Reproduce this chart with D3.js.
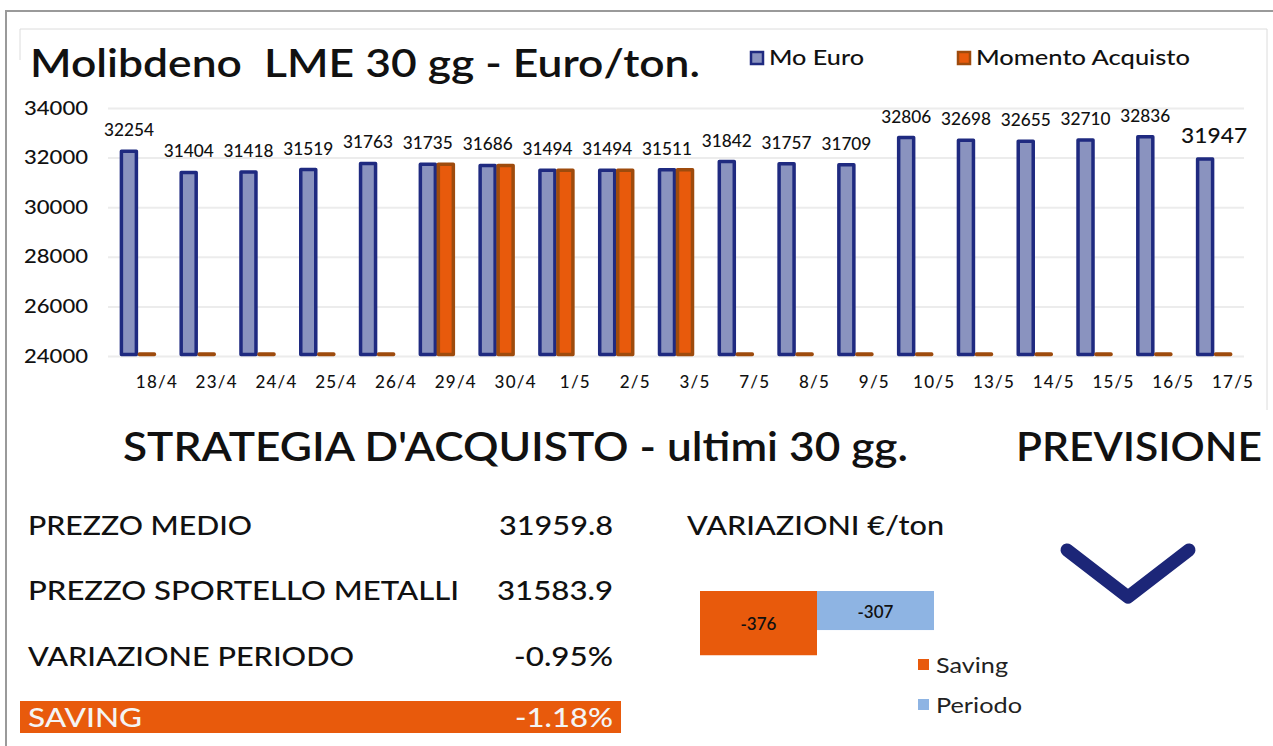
<!DOCTYPE html>
<html lang="it">
<head>
<meta charset="utf-8" />
<title>Molibdeno LME 30 gg</title>
<script src="https://d3js.org/d3.v7.min.js"></script>
<style>
  body{margin:0;background:#fff;font-family:Lato,"Noto Sans",sans-serif;}
  svg{display:block;}
  text{fill:#111;}
</style>
</head>
<body>
<svg id="chart" width="1273" height="746"></svg>
<script>
// ---------- DATA ----------
const dates=['18/4','23/4','24/4','25/4','26/4','29/4','30/4','1/5','2/5','3/5','7/5','8/5','9/5','10/5','13/5','14/5','15/5','16/5','17/5'];
const moEuro=[32254,31404,31418,31519,31763,31735,31686,31494,31494,31511,31842,31757,31709,32806,32698,32655,32710,32836,31947];
const momentoAcquisto=[0,0,0,0,0,31735,31686,31494,31494,31511,0,0,0,0,0,0,0,0,0];
const yTicks=[24000,26000,28000,30000,32000,34000];
const seriesNames=['Mo Euro','Momento Acquisto'];

const tableLabels=['PREZZO MEDIO','PREZZO SPORTELLO METALLI','VARIAZIONE PERIODO','SAVING'];
const tableValues=['31959.8','31583.9','-0.95%','-1.18%'];

const varNames=['Saving','Periodo'];
const varValues=[-376,-307];

// ---------- STYLE ----------
const BLUE_FILL='#8a93bf', BLUE_LINE='#1f2a80';
const ORANGE_FILL='#e85a0c', ORANGE_LINE='#9e4b0d';
const PERIOD_BLUE='#8eb4e3';
const NAVY='#1c2678';

// the source font is wider than Lato: stretch text to the measured widths
function fit(sel,w){ sel.attr('textLength',w).attr('lengthAdjust','spacingAndGlyphs'); return sel; }

const svg=d3.select('#chart');

// page frame
svg.append('line').attr('x1',5).attr('x2',1273).attr('y1',11).attr('y2',11).attr('stroke','#9a9a9a').attr('stroke-width',2);
svg.append('line').attr('x1',6).attr('x2',6).attr('y1',10).attr('y2',746).attr('stroke','#9a9a9a').attr('stroke-width',2);
// chart area frame (light)
svg.append('path').attr('d','M20,60V29H1267V410').attr('fill','none').attr('stroke','#dcdcdc').attr('stroke-width',1);

// title
fit(svg.append('text').attr('x',30).attr('y',77).style('font-size','39px').style('font-weight',600)
  .text('Molibdeno\u00a0\u00a0LME 30 gg - Euro/ton.'),670);

// ---------- BAR CHART ----------
const plot={left:108,right:1244,top:108,bottom:356};
const x0=d3.scaleBand().domain(dates).range([plot.left,plot.right]).padding(0);
const step=x0.bandwidth();
const barW=18;
const x1=d3.scaleBand().domain(seriesNames).range([step/2-barW,step/2+barW]).padding(0);
const y=d3.scaleLinear().domain([24000,34000]).range([plot.bottom,plot.top]);

// gridlines + y labels
const yAxis=svg.append('g').attr('transform',`translate(${plot.left},0)`)
  .call(d3.axisLeft(y).tickValues(yTicks).tickSize(-(plot.right-plot.left)).tickPadding(20).tickFormat(d3.format('d')));
yAxis.select('.domain').remove();
yAxis.selectAll('.tick line').attr('stroke','#ececec').attr('stroke-width',2);
yAxis.selectAll('.tick text').style('font-size','19px').style('font-family','Lato,"Noto Sans",sans-serif')
  .style('font-weight',500).attr('textLength',64).attr('lengthAdjust','spacingAndGlyphs').attr('fill','#111');

const rows=dates.map((d,i)=>({date:d,mo:moEuro[i],acq:momentoAcquisto[i],i}));
const groups=svg.append('g').selectAll('g').data(rows).enter().append('g')
  .attr('transform',d=>`translate(${x0(d.date)},0)`);

// Mo Euro bars
groups.append('rect')
  .attr('x',x1('Mo Euro')+1.5).attr('width',barW-3)
  .attr('y',d=>y(d.mo)).attr('height',d=>plot.bottom-y(d.mo)-1.5)
  .attr('fill',BLUE_FILL).attr('stroke',BLUE_LINE).attr('stroke-width',3.5).attr('stroke-linejoin','round');

// Momento Acquisto bars (0 -> flat at axis base, like the source)
groups.append('rect')
  .attr('x',x1('Momento Acquisto')+1.5).attr('width',barW-3)
  .attr('y',d=>d.acq>24000?y(d.acq):plot.bottom-2)
  .attr('height',d=>d.acq>24000?plot.bottom-y(d.acq)-1.5:0.5)
  .attr('fill',ORANGE_FILL).attr('stroke',ORANGE_LINE).attr('stroke-width',3.5).attr('stroke-linejoin','round');

// data labels
const last=dates.length-1;
groups.append('text')
  .attr('x',d=>x1('Mo Euro')+barW/2+(d.i===last?9:0)-(d.i===last?33:25))
  .attr('y',d=>y(d.mo)-(d.i===last?16:15))
  .style('font-size',d=>d.i===last?'22px':'17px')
  .style('font-weight',500)
  .attr('textLength',d=>d.i===last?66:50).attr('lengthAdjust','spacingAndGlyphs')
  .text(d=>d.mo);

// x labels (shifted right as in the source)
groups.append('text')
  .attr('x',step/2+19).attr('y',388)
  .attr('text-anchor','middle')
  .style('font-size','17px').style('font-weight',500).style('letter-spacing','1.2px')
  .text(d=>d.date);

// legend
const legendX=[750,957];
const legendW=[95,214];
const leg=svg.append('g').selectAll('g').data(seriesNames).enter().append('g')
  .attr('transform',(d,i)=>`translate(${legendX[i]},51)`);
leg.append('rect').attr('x',1).attr('y',1).attr('width',12).attr('height',12)
  .attr('fill',(d,i)=>i?ORANGE_FILL:BLUE_FILL).attr('stroke',(d,i)=>i?ORANGE_LINE:BLUE_LINE).attr('stroke-width',2.5);
leg.append('text').attr('x',19).attr('y',14).style('font-size','21px').style('font-weight',500)
  .attr('textLength',(d,i)=>legendW[i]).attr('lengthAdjust','spacingAndGlyphs').text(d=>d);

// ---------- STRATEGIA ----------
fit(svg.append('text').attr('x',123).attr('y',461).style('font-size','40px').style('font-weight',600)
  .text("STRATEGIA D'ACQUISTO - ultimi 30 gg."),785);
fit(svg.append('text').attr('x',1016).attr('y',461).style('font-size','40px').style('font-weight',600)
  .text('PREVISIONE'),246);

// table
const rowY=[535,600,666,727];
const labelW=[224,431,326,114];
const valueW=[114,116,99,98];
svg.append('rect').attr('x',20).attr('y',701).attr('width',601).attr('height',32).attr('fill',ORANGE_FILL);
tableLabels.forEach((t,i)=>{
  const col=i===tableLabels.length-1?'#f4f4f4':'#111';
  fit(svg.append('text').attr('x',28).attr('y',rowY[i]).style('font-size','27px').style('font-weight',500)
    .style('fill',col).text(t),labelW[i]);
  fit(svg.append('text').attr('x',613-valueW[i]).attr('y',rowY[i]).style('font-size','27px').style('font-weight',500)
    .style('fill',col).text(tableValues[i]),valueW[i]);
});

// ---------- VARIAZIONI ----------
fit(svg.append('text').attr('x',687).attr('y',535).style('font-size','26px').style('font-weight',500)
  .text('VARIAZIONI \u20ac/ton'),257);

const vx=d3.scaleBand().domain(varNames).range([700,934]).padding(0);
const vy=d3.scaleLinear().domain([-200,-400]).range([591,664]);
const varColors=[ORANGE_FILL,PERIOD_BLUE];
const vg=svg.append('g');
vg.selectAll('rect').data(varNames).enter().append('rect')
  .attr('x',d=>vx(d)).attr('width',vx.bandwidth())
  .attr('y',vy(-200)).attr('height',(d,i)=>vy(varValues[i])-vy(-200))
  .attr('fill',(d,i)=>varColors[i]);
vg.selectAll('text').data(varNames).enter().append('text')
  .attr('x',d=>vx(d)+vx.bandwidth()/2)
  .attr('y',(d,i)=>(vy(-200)+vy(varValues[i]))/2+7)
  .attr('text-anchor','middle').style('font-size','17px').style('font-weight',600)
  .text((d,i)=>varValues[i]);

const vlegW=[72,86];
const vleg=svg.append('g').selectAll('g').data(varNames).enter().append('g')
  .attr('transform',(d,i)=>`translate(918,${659+i*40})`);
vleg.append('rect').attr('width',11).attr('height',11).attr('fill',(d,i)=>varColors[i]);
vleg.append('text').attr('x',18).attr('y',14).style('font-size','21px').style('font-weight',400).style('fill','#222')
  .attr('textLength',(d,i)=>vlegW[i]).attr('lengthAdjust','spacingAndGlyphs').text(d=>d);

// ---------- PREVISIONE arrow ----------
const arrowPts=[[1067,550],[1128,597],[1189,550]];
svg.append('path').attr('d',d3.line()(arrowPts)).attr('fill','none')
  .attr('stroke',NAVY).attr('stroke-width',13).attr('stroke-linecap','round').attr('stroke-linejoin','round');
</script>
</body>
</html>
